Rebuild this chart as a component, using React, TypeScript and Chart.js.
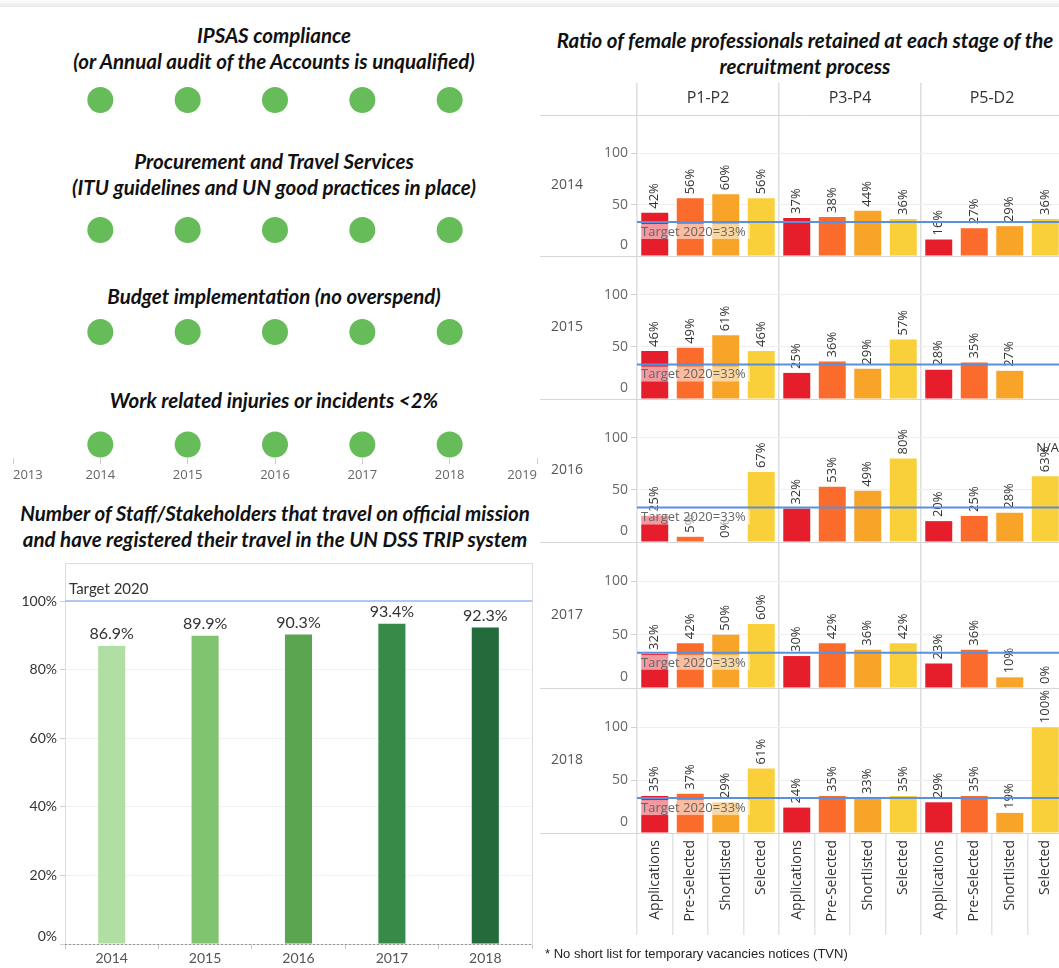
import React, { useEffect, useRef } from 'react';
import { Chart, registerables } from 'chart.js';

Chart.register(...registerables);

const SANS = '"Open Sans", "Noto Sans", sans-serif';
const TITLE_FONT = 'Lato, "Open Sans", sans-serif';

// ---------------- data ----------------
const yearAxisMin = 2013;
const yearAxisMax = 2019;
const indicatorYears = [2014, 2015, 2016, 2017, 2018];

const ipsasTitle = ['IPSAS compliance', '(or Annual audit of the Accounts is unqualified)'];
const ipsasStatus = ['met', 'met', 'met', 'met', 'met'];
const procurementTitle = ['Procurement and Travel Services', '(ITU guidelines and UN good practices in place)'];
const procurementStatus = ['met', 'met', 'met', 'met', 'met'];
const budgetTitle = ['Budget implementation (no overspend)'];
const budgetStatus = ['met', 'met', 'met', 'met', 'met'];
const injuriesTitle = ['Work related injuries or incidents <2%'];
const injuriesStatus = ['met', 'met', 'met', 'met', 'met'];

const tripTitle = [
  'Number of Staff/Stakeholders that travel on official mission',
  'and have registered their travel in the UN DSS TRIP system',
];
const tripYears = ['2014', '2015', '2016', '2017', '2018'];
const tripValues = [86.9, 89.9, 90.3, 93.4, 92.3];
const tripTarget = 100;
const tripTargetLabel = 'Target 2020';
const tripTicks = [0, 20, 40, 60, 80, 100];

const ratioTitle = ['Ratio of female professionals retained at each stage of the', 'recruitment process'];
const grades = ['P1-P2', 'P3-P4', 'P5-D2'];
const stages = ['Applications', 'Pre-Selected', 'Shortlisted', 'Selected'];
const ratioYears = ['2014', '2015', '2016', '2017', '2018'];
const ratio2014 = [42, 56, 60, 56, 37, 38, 44, 36, 16, 27, 29, 36];
const ratio2015 = [46, 49, 61, 46, 25, 36, 29, 57, 28, 35, 27, null];
const ratio2016 = [25, 5, 0, 67, 32, 53, 49, 80, 20, 25, 28, 63];
const ratio2017 = [32, 42, 50, 60, 30, 42, 36, 42, 23, 36, 10, 0];
const ratio2018 = [35, 37, 29, 61, 24, 35, 33, 35, 29, 35, 19, 100];
const ratioTarget = 33;
const ratioTargetLabel = 'Target 2020=33%';
const ratioTicks = [0, 50, 100];
const ratioNotes = [{ year: '2016', index: 11, text: 'N/A' }];
const footnote = '* No short list for temporary vacancies notices (TVN)';

// ---------------- styles ----------------
const statusColors: Record<string, string> = { met: '#67BC5A' };
const stageColors = ['#E61E2B', '#FB6B2B', '#F7A428', '#F9CF3A'];
const tripColors = ['#B1DEA2', '#80C46F', '#5BA551', '#378A48', '#236B3A'];

// ---------------- helpers ----------------
function ChartBox({ left, top, width, height, config }: any) {
  const ref = useRef<HTMLCanvasElement>(null);
  useEffect(() => {
    const chart = new Chart(ref.current as HTMLCanvasElement, config);
    return () => chart.destroy();
  }, []);
  return (
    <canvas
      ref={ref}
      width={width}
      height={height}
      style={{ position: 'absolute', left, top, width, height }}
    />
  );
}

function Title({ lines, left, top, width }: any) {
  return (
    <div
      style={{
        position: 'absolute',
        left,
        top,
        width,
        textAlign: 'center',
        fontFamily: TITLE_FONT,
        fontStyle: 'italic',
        fontWeight: 700,
        fontSize: 20.5,
        lineHeight: '26px',
        color: '#111',
        whiteSpace: 'nowrap',
      }}
    >
      {lines.map((l: string, i: number) => (
        <div key={i}>{l}</div>
      ))}
    </div>
  );
}

function dotConfig(status: string[], withAxis: boolean) {
  return {
    type: 'scatter',
    data: {
      datasets: [
        {
          data: indicatorYears.map((yr) => ({ x: yr, y: 0 })),
          pointRadius: 13,
          pointHoverRadius: 13,
          pointBorderWidth: 0,
          pointBackgroundColor: status.map((s) => statusColors[s]),
          clip: false,
        },
      ],
    },
    options: {
      animation: false,
      responsive: false,
      maintainAspectRatio: false,
      events: [],
      layout: { padding: { left: 12, right: 12, top: 0, bottom: 0 } },
      plugins: { legend: { display: false }, tooltip: { enabled: false } },
      scales: {
        x: {
          type: 'linear',
          display: withAxis,
          min: yearAxisMin,
          max: yearAxisMax,
          afterFit: (s: any) => {
            s.height = 32;
          },
          border: { display: false },
          grid: { drawOnChartArea: false, tickLength: 6, tickColor: '#cfcfcf' },
          ticks: {
            stepSize: 1,
            align: 'inner',
            padding: 3,
            color: '#666',
            font: { family: SANS, size: 13 },
            callback: (v: any) => String(v),
          },
        },
        y: { display: false, min: -1, max: 1 },
      },
    },
  };
}

const tripDecor = {
  id: 'tripDecor',
  beforeDatasetsDraw(chart: any) {
    const { ctx, chartArea } = chart;
    const ys = chart.scales.y;
    ctx.save();
    ctx.strokeStyle = '#dcdcdc';
    ctx.lineWidth = 1;
    ctx.strokeRect(
      Math.round(chartArea.left) + 0.5,
      Math.round(chartArea.top) + 0.5,
      Math.round(chartArea.right - chartArea.left),
      Math.round(chartArea.bottom - chartArea.top)
    );
    const y0 = Math.round(ys.getPixelForValue(0)) + 0.5;
    ctx.strokeStyle = '#9a9a9a';
    ctx.setLineDash([2, 2]);
    ctx.beginPath();
    ctx.moveTo(chartArea.left, y0);
    ctx.lineTo(chartArea.right, y0);
    ctx.stroke();
    ctx.setLineDash([]);
    // zero tick label, lifted above the dotted axis line
    ctx.fillStyle = '#333';
    ctx.font = `14px ${TITLE_FONT}`;
    ctx.textAlign = 'right';
    ctx.textBaseline = 'middle';
    ctx.fillText(tripTicks[0] + '%', chartArea.left - 8, y0 - 8);
    const yt = ys.getPixelForValue(tripTarget);
    ctx.strokeStyle = '#AFC9F2';
    ctx.lineWidth = 2;
    ctx.beginPath();
    ctx.moveTo(chartArea.left, yt);
    ctx.lineTo(chartArea.right, yt);
    ctx.stroke();
    ctx.fillStyle = '#333';
    ctx.font = `15px ${TITLE_FONT}`;
    ctx.textAlign = 'left';
    ctx.textBaseline = 'bottom';
    ctx.fillText(tripTargetLabel, chartArea.left + 4, yt - 4);
    ctx.restore();
  },
  afterDatasetsDraw(chart: any) {
    const { ctx } = chart;
    const meta = chart.getDatasetMeta(0);
    ctx.save();
    ctx.fillStyle = '#333';
    ctx.font = `16px ${TITLE_FONT}`;
    ctx.textAlign = 'center';
    ctx.textBaseline = 'bottom';
    meta.data.forEach((bar: any, i: number) => {
      ctx.fillText(tripValues[i].toFixed(1) + '%', bar.x, bar.y - 4);
    });
    ctx.restore();
  },
};

function tripConfig() {
  return {
    type: 'bar',
    data: {
      labels: tripYears,
      datasets: [
        {
          data: tripValues,
          backgroundColor: tripColors,
          barPercentage: 0.29,
          categoryPercentage: 1,
        },
      ],
    },
    options: {
      animation: false,
      responsive: false,
      maintainAspectRatio: false,
      events: [],
      layout: { padding: { top: 8, right: 13, left: 0, bottom: 0 } },
      plugins: { legend: { display: false }, tooltip: { enabled: false } },
      scales: {
        x: {
          afterFit: (s: any) => {
            s.height = 24;
          },
          border: { display: false },
          grid: { offset: true, drawOnChartArea: false, tickLength: 5, tickColor: '#c8c8c8' },
          ticks: { color: '#555', font: { family: TITLE_FONT, size: 14 }, padding: 1 },
        },
        y: {
          min: 0,
          max: 111,
          afterBuildTicks: (s: any) => {
            s.ticks = tripTicks.map((v) => ({ value: v }));
          },
          afterFit: (s: any) => {
            s.width = 65;
          },
          border: { display: false },
          grid: {
            color: (c: any) =>
              c.tick && (c.tick.value === 0 || c.tick.value === 100) ? 'rgba(0,0,0,0)' : '#f1f1f1',
            tickColor: '#d0d0d0',
            tickLength: 5,
          },
          ticks: {
            color: '#333',
            font: { family: TITLE_FONT, size: 14 },
            padding: 3,
            callback: (v: any) => (v === 0 ? '' : v + '%'),
          },
        },
      },
    },
    plugins: [tripDecor],
  };
}

const ratioSeries = [ratio2014, ratio2015, ratio2016, ratio2017, ratio2018];
const ratioCategories = grades.flatMap(() => stages);
const rowWeights = [141, 143, 143, 146, 145];

const ratioDecor = {
  id: 'ratioDecor',
  beforeDatasetsDraw(chart: any) {
    const { ctx, chartArea, width } = chart;
    ctx.save();
    ctx.strokeStyle = '#d6d6d6';
    ctx.lineWidth = 1;
    const lines = [chartArea.top, ...ratioYears.map((yr) => chart.scales['y' + yr].getPixelForValue(0))];
    lines.forEach((py: number) => {
      const y = Math.round(py) + 0.5;
      ctx.beginPath();
      ctx.moveTo(0, y);
      ctx.lineTo(width, y);
      ctx.stroke();
    });
    ctx.fillStyle = '#555';
    ctx.font = `14px ${SANS}`;
    ctx.textAlign = 'center';
    ctx.textBaseline = 'middle';
    ratioYears.forEach((yr) => {
      const s = chart.scales['y' + yr];
      ctx.fillText(yr, 27, (s.top + s.bottom) / 2);
    });
    // zero tick labels, lifted above the row separator
    ctx.fillStyle = '#666';
    ctx.textAlign = 'right';
    ratioYears.forEach((yr) => {
      const s = chart.scales['y' + yr];
      ctx.fillText(String(ratioTicks[0]), chartArea.left - 9, s.getPixelForValue(0) - 11);
    });
    ctx.restore();
  },
  afterDatasetsDraw(chart: any) {
    const { ctx, chartArea } = chart;
    ctx.save();
    // value labels
    ctx.fillStyle = '#333';
    ctx.font = `13px ${SANS}`;
    ratioSeries.forEach((vals, di) => {
      const meta = chart.getDatasetMeta(di);
      meta.data.forEach((bar: any, i: number) => {
        const v = vals[i];
        if (v === null || v === undefined) return;
        ctx.save();
        ctx.translate(bar.x, bar.y - 4);
        ctx.rotate(-Math.PI / 2);
        ctx.textAlign = 'left';
        ctx.textBaseline = 'middle';
        ctx.fillText(v + '%', 0, 0);
        ctx.restore();
      });
    });
    // notes
    ratioNotes.forEach((n) => {
      const di = ratioYears.indexOf(n.year);
      const bar: any = chart.getDatasetMeta(di).data[n.index];
      const v = ratioSeries[di][n.index] as number;
      const w = ctx.measureText(v + '%').width;
      ctx.textAlign = 'left';
      ctx.textBaseline = 'middle';
      ctx.fillText(n.text, bar.x - 9, bar.y - 4 - w + 2);
    });
    // target lines
    ratioYears.forEach((yr) => {
      const s = chart.scales['y' + yr];
      const y = s.getPixelForValue(ratioTarget);
      ctx.strokeStyle = '#5B8FE0';
      ctx.lineWidth = 2;
      ctx.beginPath();
      ctx.moveTo(chartArea.left, y);
      ctx.lineTo(chartArea.right, y);
      ctx.stroke();
      ctx.font = `13px ${SANS}`;
      const tw = ctx.measureText(ratioTargetLabel).width;
      ctx.fillStyle = 'rgba(255,255,255,0.55)';
      ctx.fillRect(chartArea.left + 2, y + 2, tw + 6, 15);
      ctx.fillStyle = '#666';
      ctx.textAlign = 'left';
      ctx.textBaseline = 'middle';
      ctx.fillText(ratioTargetLabel, chartArea.left + 4, y + 10);
    });
    ctx.restore();
  },
};

function ratioConfig() {
  const scales: any = {
    x: {
      type: 'category',
      position: 'bottom',
      offset: true,
      afterFit: (s: any) => {
        s.height = 107;
      },
      border: { display: false },
      grid: {
        offset: true,
        lineWidth: 1.5,
        color: (c: any) => (typeof c.index === 'number' && c.index % 4 === 0 ? '#dedede' : 'rgba(0,0,0,0)'),
        tickColor: '#e4e4e4',
        tickLength: 102,
      },
      ticks: {
        autoSkip: false,
        minRotation: 90,
        maxRotation: 90,
        padding: -95,
        color: '#333',
        font: { family: SANS, size: 14 },
      },
    },
    x2: {
      type: 'category',
      labels: grades,
      position: 'top',
      offset: true,
      afterFit: (s: any) => {
        s.height = 32;
      },
      border: { display: false },
      grid: { offset: true, drawOnChartArea: false, lineWidth: 1.5, tickLength: 32, tickColor: '#dedede' },
      ticks: { padding: -25, color: '#333', font: { family: SANS, size: 16 } },
    },
  };
  ratioYears.forEach((yr, i) => {
    scales['y' + yr] = {
      type: 'linear',
      position: 'left',
      stack: 'rows',
      stackWeight: rowWeights[i],
      weight: ratioYears.length - i,
      min: 0,
      max: 137,
      afterBuildTicks: (s: any) => {
        s.ticks = ratioTicks.map((v) => ({ value: v }));
      },
      afterFit: (s: any) => {
        s.width = 97;
      },
      border: { display: false },
      grid: {
        color: (c: any) => (c.tick && c.tick.value === 0 ? 'rgba(0,0,0,0)' : '#efefef'),
        tickColor: '#d0d0d0',
        tickLength: 6,
      },
      ticks: {
        color: '#666',
        font: { family: SANS, size: 14 },
        padding: 3,
        callback: (v: any) => (v === 0 ? '' : String(v)),
      },
    };
  });
  return {
    type: 'bar',
    data: {
      labels: ratioCategories,
      datasets: ratioSeries.map((vals, i) => ({
        label: ratioYears[i],
        data: vals,
        xAxisID: 'x',
        yAxisID: 'y' + ratioYears[i],
        grouped: false,
        barPercentage: 0.76,
        categoryPercentage: 1,
        backgroundColor: ratioCategories.map((_, j) => stageColors[j % stages.length]),
      })),
    },
    options: {
      animation: false,
      responsive: false,
      maintainAspectRatio: false,
      events: [],
      layout: { padding: 0 },
      plugins: { legend: { display: false }, tooltip: { enabled: false } },
      scales,
    },
    plugins: [ratioDecor],
  };
}

// layout positions
const dotRows = [
  { title: ipsasTitle, status: ipsasStatus, titleTop: 22, dotTop: 87 },
  { title: procurementTitle, status: procurementStatus, titleTop: 148, dotTop: 217 },
  { title: budgetTitle, status: budgetStatus, titleTop: 283, dotTop: 319 },
  { title: injuriesTitle, status: injuriesStatus, titleTop: 387, dotTop: 418 },
];

export default function App() {
  return (
    <div
      style={{
        position: 'absolute',
        left: 0,
        top: 0,
        width: 1059,
        height: 968,
        overflow: 'hidden',
        background: '#fff',
      }}
    >
      <div
        style={{
          position: 'absolute',
          left: 0,
          top: 0,
          width: 1059,
          height: 7,
          background: 'linear-gradient(#ffffff, #e9e9e9)',
        }}
      />
      {dotRows.map((r, i) => {
        const last = i === dotRows.length - 1;
        return (
          <React.Fragment key={i}>
            <Title lines={r.title} left={0} top={r.titleTop} width={548} />
            <ChartBox left={0} top={r.dotTop} width={550} height={last ? 72 : 30} config={dotConfig(r.status, last)} />
          </React.Fragment>
        );
      })}
      <Title lines={tripTitle} left={0} top={500} width={550} />
      <ChartBox left={0} top={552} width={545} height={416} config={tripConfig()} />
      <Title lines={ratioTitle} left={545} top={27} width={520} />
      <ChartBox left={540} top={83} width={523} height={857} config={ratioConfig()} />
      <div
        style={{
          position: 'absolute',
          left: 545,
          top: 946,
          fontFamily: '"Liberation Sans", Arial, sans-serif',
          fontSize: 13,
          color: '#222',
          whiteSpace: 'nowrap',
        }}
      >
        {footnote}
      </div>
    </div>
  );
}
